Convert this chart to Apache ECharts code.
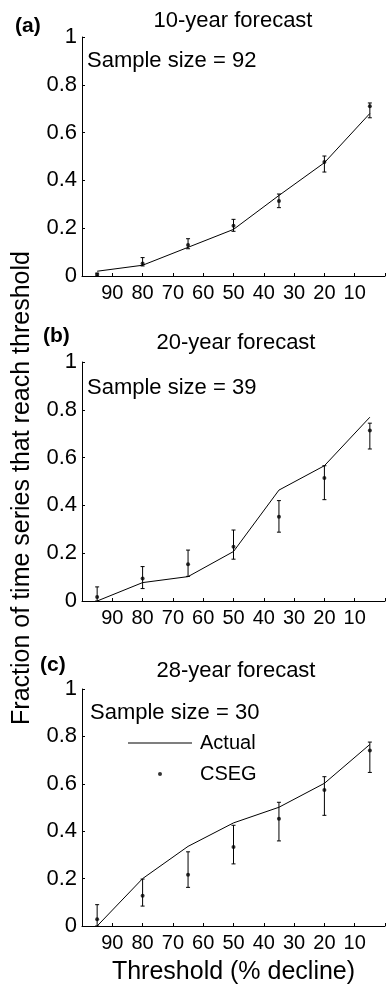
<!DOCTYPE html>
<html><head><meta charset="utf-8">
<script src="https://cdn.jsdelivr.net/npm/echarts@6/dist/echarts.min.js"></script>
<style>html,body{margin:0;padding:0;background:#fff}#c{width:388px;height:986px}</style>
</head><body><div id="c"></div>
<script>
// ---- data ----
const thresholds = [95, 80, 65, 50, 35, 20, 5];
const xTickLabels = ['90', '80', '70', '60', '50', '40', '30', '20', '10'];
const yTickLabels = ['0', '0.2', '0.4', '0.6', '0.8', '1'];
const panelTitles = ['10-year forecast', '20-year forecast', '28-year forecast'];
const panelLetters = ['(a)', '(b)', '(c)'];
const sampleSizes = [92, 39, 30];

const actual10 = [0.02, 0.045, 0.12, 0.195, 0.337, 0.474, 0.68];
const cseg10 = [0.006, 0.052, 0.13, 0.21, 0.314, 0.477, 0.71];
const cseg10Low = [0.0, 0.042, 0.114, 0.187, 0.286, 0.435, 0.662];
const cseg10High = [0.012, 0.077, 0.156, 0.237, 0.343, 0.502, 0.724];

const actual20 = [0.0, 0.077, 0.102, 0.207, 0.464, 0.566, 0.769];
const cseg20 = [0.017, 0.094, 0.154, 0.227, 0.352, 0.515, 0.713];
const cseg20Low = [0.0, 0.052, 0.103, 0.175, 0.288, 0.424, 0.636];
const cseg20High = [0.059, 0.144, 0.213, 0.297, 0.42, 0.566, 0.744];

const actual28 = [0.0, 0.2, 0.336, 0.435, 0.501, 0.602, 0.766];
const cseg28 = [0.028, 0.128, 0.216, 0.333, 0.453, 0.574, 0.741];
const cseg28Low = [0.0, 0.084, 0.163, 0.262, 0.359, 0.467, 0.648];
const cseg28High = [0.09, 0.198, 0.313, 0.425, 0.522, 0.63, 0.776];

// ---- build ----
const FONT = 'Liberation Sans, Arial, Helvetica, sans-serif';
const panels = [
  {actual: actual10, cseg: cseg10, lo: cseg10Low, hi: cseg10High},
  {actual: actual20, cseg: cseg20, lo: cseg20Low, hi: cseg20High},
  {actual: actual28, cseg: cseg28, lo: cseg28Low, hi: cseg28High}
];
const gridTops = [37, 362, 689];
const titleY = [21, 343, 671];
const titleX = [233, 236, 236];
const letterPos = [[15, 26], [43, 336], [40, 665]];
const samplePos = [[87, 61], [87, 388], [90, 713]];

const grids = [], xAxes = [], yAxes = [], series = [], graphics = [];
panels.forEach((p, i) => {
  grids.push({left: 82, width: 307, top: gridTops[i], height: 239});
  xAxes.push({
    type: 'value', gridIndex: i, min: 0, max: 100, interval: 10, inverse: true,
    axisLine: {show: true, onZero: false, lineStyle: {color: '#000', width: 1}},
    axisTick: {show: true, inside: true, length: 3, lineStyle: {color: '#000'}},
    splitLine: {show: false},
    axisLabel: {
      color: '#000', fontSize: 20, fontFamily: FONT, margin: 7,
      formatter: v => xTickLabels.indexOf(String(v)) >= 0 ? String(v) : ''
    },
    name: i === 2 ? 'Threshold (% decline)' : '',
    nameLocation: 'middle', nameGap: 34,
    nameTextStyle: {color: '#000', fontSize: 25, fontFamily: FONT}
  });
  yAxes.push({
    type: 'value', gridIndex: i, min: 0, max: 1, interval: 0.2, position: 'left',
    axisLine: {show: true, onZero: false, lineStyle: {color: '#000', width: 1}},
    axisTick: {show: true, inside: true, length: 3, lineStyle: {color: '#000'}},
    splitLine: {show: false},
    axisLabel: {
      color: '#000', fontSize: 22, fontFamily: FONT, margin: 5,
      formatter: v => yTickLabels[Math.round(v * 5)]
    }
  });
  series.push({
    name: 'Actual', type: 'line', xAxisIndex: i, yAxisIndex: i,
    data: thresholds.map((t, k) => [t, p.actual[k]]),
    symbol: 'none', lineStyle: {color: '#000', width: 1}, itemStyle: {color: '#000'},
    silent: true, z: 2
  });
  series.push({
    name: 'CSEG-err', type: 'custom', xAxisIndex: i, yAxisIndex: i,
    data: thresholds.map((t, k) => [t, p.lo[k], p.hi[k]]),
    encode: {x: 0, y: [1, 2]},
    renderItem: (params, api) => {
      const x = api.value(0);
      const a = api.coord([x, api.value(1)]);
      const b = api.coord([x, api.value(2)]);
      const w = 2;
      const st = {stroke: '#000', lineWidth: 1};
      return {type: 'group', children: [
        {type: 'line', shape: {x1: a[0], y1: a[1], x2: b[0], y2: b[1]}, style: st},
        {type: 'line', shape: {x1: a[0] - w, y1: a[1], x2: a[0] + w, y2: a[1]}, style: st},
        {type: 'line', shape: {x1: b[0] - w, y1: b[1], x2: b[0] + w, y2: b[1]}, style: st}
      ]};
    },
    silent: true, z: 3
  });
  series.push({
    name: 'CSEG', type: 'scatter', xAxisIndex: i, yAxisIndex: i,
    data: thresholds.map((t, k) => [t, p.cseg[k]]),
    symbol: 'circle', symbolSize: 4, itemStyle: {color: '#000'},
    silent: true, z: 4
  });
  graphics.push({type: 'text', x: titleX[i], y: titleY[i],
    style: {text: panelTitles[i], fontSize: 22, fontFamily: FONT, fill: '#000', align: 'center', verticalAlign: 'middle'}});
  graphics.push({type: 'text', x: letterPos[i][0], y: letterPos[i][1],
    style: {text: panelLetters[i], fontSize: 21, fontWeight: 'bold', fontFamily: FONT, fill: '#000', align: 'left', verticalAlign: 'middle'}});
  graphics.push({type: 'text', x: samplePos[i][0], y: samplePos[i][1],
    style: {text: 'Sample size = ' + sampleSizes[i], fontSize: 22, fontFamily: FONT, fill: '#000', align: 'left', verticalAlign: 'middle'}});
});
graphics.push({type: 'text', x: 22, y: 488, rotation: Math.PI / 2,
  style: {text: 'Fraction of time series that reach threshold', fontSize: 25, fontFamily: FONT, fill: '#000', align: 'center', verticalAlign: 'middle'}});

const chart = echarts.init(document.getElementById('c'), null, {renderer: 'canvas'});
chart.setOption({
  animation: false,
  backgroundColor: '#fff',
  grid: grids, xAxis: xAxes, yAxis: yAxes, series: series,
  legend: [
    {data: [{name: 'Actual', icon: 'rect'}], orient: 'vertical', left: 128, top: 733, itemWidth: 64, itemHeight: 1, padding: 0,
     selectedMode: false, itemStyle: {color: '#000'},
     textStyle: {fontSize: 20, fontFamily: FONT, color: '#000', padding: [0, 0, 0, 3]}},
    {data: [{name: 'CSEG', icon: 'circle'}], orient: 'vertical', left: 158, top: 764, itemWidth: 64, itemHeight: 4, padding: 0,
     selectedMode: false, itemStyle: {color: '#000'},
     textStyle: {fontSize: 20, fontFamily: FONT, color: '#000', padding: [0, 0, 0, 3]}}
  ],
  graphic: graphics
});
</script></body></html>
